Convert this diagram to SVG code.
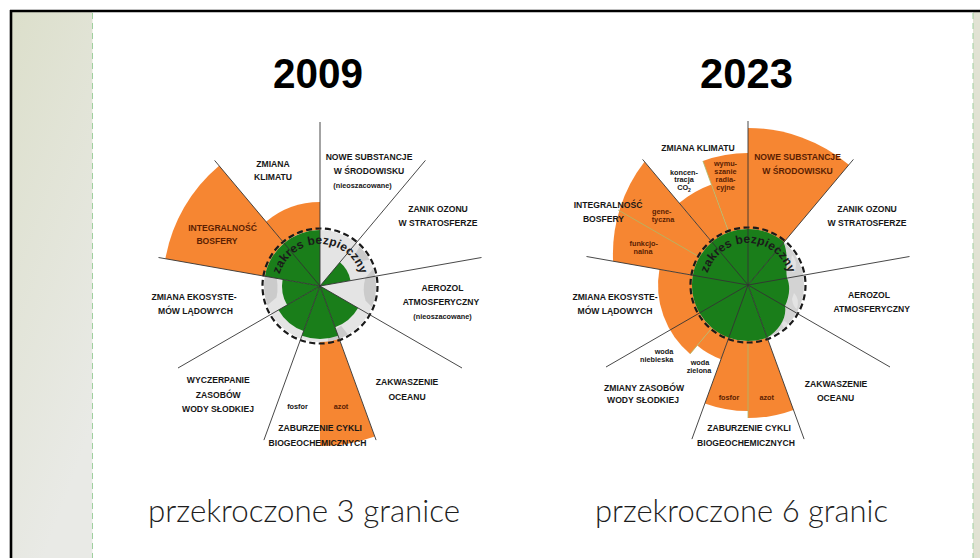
<svg xmlns="http://www.w3.org/2000/svg" width="980" height="558" viewBox="0 0 980 558">
<defs>
<linearGradient id="strip" x1="0" y1="0" x2="0.4" y2="1">
<stop offset="0" stop-color="#dcdfcb"/>
<stop offset="1" stop-color="#e9eae6"/>
</linearGradient>
<path id="arc1" d="M -41.08,-8.73 A 42 42 0 0 1 41.08,-8.73"/>
<path id="arc2" d="M -41.08,-8.73 A 42 42 0 0 1 41.08,-8.73"/>
</defs>
<style>
.or{fill:#f68632}
.gr{fill:#1a7e1a}
.ray{stroke:#333;stroke-width:0.9;fill:none}
.div{stroke:#a9bb6c;stroke-width:0.8;fill:none}
.safe{fill:none;stroke:#1a1a1a;stroke-width:2.2;stroke-dasharray:6 3.5}
.lab{font-family:"Liberation Sans",Arial,sans-serif;font-weight:bold;font-size:8.6px;fill:#161616;text-anchor:middle}
.sm{font-family:"Liberation Sans",Arial,sans-serif;font-weight:bold;font-size:7.3px;fill:#161616;text-anchor:middle}
.br{fill:#5a1e02}
.arc{font-family:"Liberation Sans",Arial,sans-serif;font-weight:bold;font-size:12px;fill:#1a1a1a;letter-spacing:0.2px}
.title{font-family:"Liberation Sans",Arial,sans-serif;font-weight:bold;font-size:43px;fill:#000;text-anchor:middle}
.foot{font-family:Lato,"Open Sans",sans-serif;font-weight:300;font-size:31px;fill:#1e1e1e}
</style>
<rect width="980" height="558" fill="#fff"/>
<g id="frame">
<rect x="12" y="12" width="80.5" height="546" fill="url(#strip)"/>
<rect x="973" y="12" width="7" height="546" fill="#e1e2d3"/>
<line x1="92.5" y1="13" x2="92.5" y2="558" stroke="#9fd09f" stroke-width="1" stroke-dasharray="6 4"/>
<line x1="973" y1="13" x2="973" y2="558" stroke="#9fd09f" stroke-width="1" stroke-dasharray="6 4"/>
<line x1="10" y1="11" x2="980" y2="11" stroke="#000" stroke-width="2.6"/>
<line x1="11" y1="10" x2="11" y2="558" stroke="#000" stroke-width="2.6"/>
</g>
<g id="titles">
<text class="title" x="318" y="88" textLength="90" lengthAdjust="spacingAndGlyphs">2009</text>
<text class="title" x="746.5" y="88" textLength="93" lengthAdjust="spacingAndGlyphs">2023</text>
</g>
<g id="chart2009" transform="translate(320,286)">
<path class="or" d="M0,0 L-154.6,-27.3 A157 157 0 0 1 -100.9,-120.3 Z"/>
<path class="or" d="M0,0 L-54,-64.3 A84 84 0 0 1 0,-84 Z"/>
<path class="or" d="M0,0 L54.7,150.4 A160 160 0 0 1 0,160 Z"/>
<circle r="56" fill="#e4e4e4"/>
<g fill="#cbcbcb">
<path d="M53.3,-17.3 A56 56 0 0 1 51.9,21 L45.6,14.8 Q42,4 45.3,-8 Z"/>
<path d="M-52.6,19.2 A56 56 0 0 1 -51.9,-21 L-44.7,-14.5 Q-41,0 -43.5,11.6 Z"/>
<path d="M28,48.5 A56 56 0 0 1 7.8,55.5 L8.2,46.3 Q15,44 21.1,39.7 Z"/>
<path d="M39.6,-39.6 A56 56 0 0 1 49.4,-26.3 L39,-24.4 Q36,-28 34.9,-31.4 Z"/>
</g>
<path class="gr" d="M0,0 L19.9,-23.7 A31 31 0 0 1 30.5,-5.4 Z"/>
<path class="gr" d="M0,0 L38.1,22 A44 44 0 0 1 15,41.3 Z"/>
<path class="gr" d="M0,0 L18.1,49.8 A53 53 0 0 1 -18.1,49.8 Z"/>
<path class="gr" d="M0,0 L-16.4,45.1 A48 48 0 0 1 -41.6,24 Z"/>
<path class="gr" d="M0,0 L-32.9,19 A38 38 0 0 1 -37.4,-6.6 Z"/>
<path class="gr" d="M0,0 L-55.1,-9.7 A56 56 0 0 1 0,-56 Z"/>
<circle class="safe" r="57.5"/>
<g class="ray">
<line x1="0" y1="0" x2="0" y2="-164"/>
<line x1="0" y1="0" x2="105.4" y2="-125.6"/>
<line x1="0" y1="0" x2="161.5" y2="-28.5"/>
<line x1="0" y1="0" x2="142" y2="82"/>
<line x1="0" y1="0" x2="56.1" y2="154.1"/>
<line x1="0" y1="0" x2="-56.1" y2="154.1"/>
<line x1="0" y1="0" x2="-142" y2="82"/>
<line x1="0" y1="0" x2="-161.5" y2="-28.5"/>
<line x1="0" y1="0" x2="-105.4" y2="-125.6"/>
</g>
<text class="arc"><textPath href="#arc1" startOffset="50%" text-anchor="middle">zakres bezpieczny</textPath></text>
</g>
<g id="labels2009">
<text class="lab" x="273" y="166.5">ZMIANA</text>
<text class="lab" x="273" y="180">KLIMATU</text>
<text class="lab" x="369" y="160">NOWE SUBSTANCJE</text>
<text class="lab" x="369" y="174">W ŚRODOWISKU</text>
<text class="sm" x="362.5" y="187.5">(nieoszacowane)</text>
<text class="lab" x="438" y="211.5">ZANIK OZONU</text>
<text class="lab" x="438" y="226">W STRATOSFERZE</text>
<text class="lab br" x="222.5" y="230.5">INTEGRALNOŚĆ</text>
<text class="lab br" x="217" y="244">BOSFERY</text>
<text class="lab" x="194" y="300">ZMIANA EKOSYSTE-</text>
<text class="lab" x="195.5" y="314">MÓW LĄDOWYCH</text>
<text class="lab" x="442.5" y="290.5">AEROZOL</text>
<text class="lab" x="441" y="305">ATMOSFERYCZNY</text>
<text class="sm" x="442.5" y="318.5">(nieoszacowane)</text>
<text class="lab" x="218.3" y="383">WYCZERPANIE</text>
<text class="lab" x="218.3" y="397.5">ZASOBÓW</text>
<text class="lab" x="218" y="411.5">WODY SŁODKIEJ</text>
<text class="lab" x="407" y="385">ZAKWASZENIE</text>
<text class="lab" x="407" y="400">OCEANU</text>
<text class="sm" x="297.5" y="408.5">fosfor</text>
<text class="sm br" x="341" y="408.5">azot</text>
<text class="lab" x="320" y="430.5">ZABURZENIE CYKLI</text>
<text class="lab" x="317.5" y="446">BIOGEOCHEMICZNYCH</text>
</g>
<g id="chart2023" transform="translate(748,285)">
<path class="or" d="M0,0 L0,-157 A157 157 0 0 1 100.9,-120.3 Z"/>
<path class="or" d="M0,0 L45.5,125 A133 133 0 0 1 0,133 Z"/>
<path class="or" d="M0,0 L0,126 A126 126 0 0 1 -43.1,118.4 Z"/>
<path class="or" d="M0,0 L-27,74.2 A79 79 0 0 1 -50.8,60.5 Z"/>
<path class="or" d="M0,0 L-57.9,68.9 A90 90 0 0 1 -88.6,-15.6 Z"/>
<path class="or" d="M0,0 L-134.9,-23.8 A150 150 0 0 1 -103.5,-123.3 Z"/>
<path class="or" d="M0,0 L-68.8,-82 A107 107 0 0 1 -36.6,-100.5 Z"/>
<path class="or" d="M0,0 L-45.1,-124 A132 132 0 0 1 0,-132 Z"/>
<circle r="56" fill="#d3d3d3"/>
<g fill="#e3e3e3">
<path d="M44,-30 Q50,-24 47,-14 Q44,-10 42,-18 Z"/>
<path d="M46,8 Q52,14 49,24 Q45,22 44,14 Z"/>
<path d="M36,36 Q42,38 38,44 Q34,42 34,38 Z"/>
</g>
<path class="gr" d="M0,0 L19.2,52.6 A56 56 0 1 1 36,-42.9 Z"/>
<path class="gr" d="M0,0 L35.6,-42.6 C41,-31 37,-16 39,-7 C43,2 41,12 37,21 C39,33 31,45 19.2,52.6 Z"/>
<g class="div">
<line x1="-19.2" y1="-52.6" x2="-45.1" y2="-124"/>
<line x1="-48.5" y1="-28" x2="-129.9" y2="-75"/>
<line x1="-36" y1="42.9" x2="-57.9" y2="68.9"/>
<line x1="0" y1="56" x2="0" y2="133"/>
</g>
<circle class="safe" r="57.5"/>
<g class="ray">
<line x1="0" y1="0" x2="0" y2="-164"/>
<line x1="0" y1="0" x2="105.4" y2="-125.6"/>
<line x1="0" y1="0" x2="161.5" y2="-28.5"/>
<line x1="0" y1="0" x2="142" y2="82"/>
<line x1="0" y1="0" x2="56.1" y2="154.1"/>
<line x1="0" y1="0" x2="-56.1" y2="154.1"/>
<line x1="0" y1="0" x2="-142" y2="82"/>
<line x1="0" y1="0" x2="-161.5" y2="-28.5"/>
<line x1="0" y1="0" x2="-105.4" y2="-125.6"/>
</g>
<text class="arc"><textPath href="#arc2" startOffset="50%" text-anchor="middle">zakres bezpieczny</textPath></text>
</g>
<g id="labels2023">
<text class="lab" x="698" y="151">ZMIANA KLIMATU</text>
<text class="sm" x="684" y="174.5">koncen-</text>
<text class="sm" x="684" y="182">tracja</text>
<text class="sm" x="684" y="190">CO<tspan font-size="5" dy="1.5">2</tspan></text>
<text class="sm br" x="725.5" y="166">wymu-</text>
<text class="sm br" x="725.5" y="174">szanie</text>
<text class="sm br" x="725.5" y="182">radia-</text>
<text class="sm br" x="725.5" y="190">cyjne</text>
<text class="lab br" x="797.5" y="160">NOWE SUBSTANCJE</text>
<text class="lab br" x="797.5" y="174">W ŚRODOWISKU</text>
<text class="lab" x="867" y="211.5">ZANIK OZONU</text>
<text class="lab" x="867" y="225.5">W STRATOSFERZE</text>
<text class="lab" x="608" y="207.5">INTEGRALNOŚĆ</text>
<text class="lab" x="603.5" y="221.5">BOSFERY</text>
<text class="sm br" x="661.7" y="214.2">gene-</text>
<text class="sm br" x="663" y="222">tyczna</text>
<text class="sm br" x="643.7" y="246">funkcjo-</text>
<text class="sm br" x="643" y="254">nalna</text>
<text class="lab" x="615" y="300">ZMIANA EKOSYSTE-</text>
<text class="lab" x="615" y="314">MÓW LĄDOWYCH</text>
<text class="lab" x="869" y="298">AEROZOL</text>
<text class="lab" x="871.7" y="311.5">ATMOSFERYCZNY</text>
<text class="sm" x="664" y="353.5">woda</text>
<text class="sm" x="656.7" y="361.5">niebieska</text>
<text class="sm" x="700" y="364.5">woda</text>
<text class="sm" x="699" y="372.5">zielona</text>
<text class="lab" x="644" y="390.5">ZMIANY ZASOBÓW</text>
<text class="lab" x="643" y="402.5">WODY SŁODKIEJ</text>
<text class="sm br" x="729" y="400">fosfor</text>
<text class="sm br" x="766.7" y="400">azot</text>
<text class="lab" x="836" y="386.5">ZAKWASZENIE</text>
<text class="lab" x="835.5" y="400.5">OCEANU</text>
<text class="lab" x="749" y="430.5">ZABURZENIE CYKLI</text>
<text class="lab" x="746" y="445.5">BIOGEOCHEMICZNYCH</text>
</g>
<g id="footer">
<text class="foot" x="148" y="522" textLength="312" lengthAdjust="spacingAndGlyphs">przekroczone 3 granice</text>
<text class="foot" x="595" y="522" textLength="293" lengthAdjust="spacingAndGlyphs">przekroczone 6 granic</text>
</g>
</svg>
